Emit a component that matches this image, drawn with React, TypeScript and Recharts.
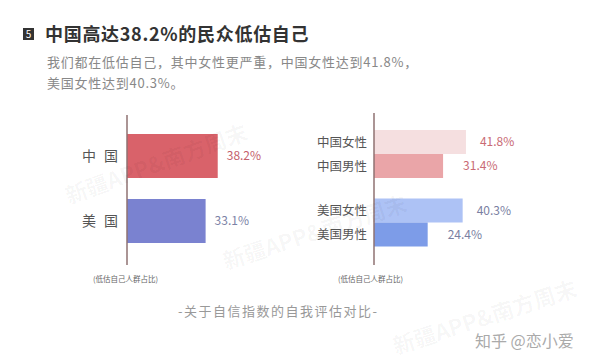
import { Bar, BarChart, Cell, LabelList, XAxis, YAxis } from 'recharts'

const countries = ['中国', '美国']
const overall = [38.2, 33.1]
const female = [41.8, 40.3]
const male = [31.4, 24.4]
const femaleLabels = ['中国女性', '美国女性']
const maleLabels = ['中国男性', '美国男性']

const leftData = countries.map((name, i) => ({ name, value: overall[i] }))
const rightData = countries.map((name, i) => ({ name, female: female[i], male: male[i] }))

const font = '"Noto Sans CJK SC", "Noto Sans", sans-serif'
const axisColor = '#8f7272'
const leftFill = ['#d9626a', '#7a82d0']
const leftLabel = ['#c4606c', '#7c82a6']
const femaleFill = ['#f5dfe0', '#adc2f5']
const maleFill = ['#eaa5a8', '#7d9ce8']
const rightLabel = ['#c96a74', '#7a80a2']

const pct = (v: number) => `${v}%`

function LeftTick({ x, y, payload }: any) {
  return (
    <text x={x - 37} y={y} dy={5} fontSize={14} fill="#555" letterSpacing={8} fontFamily={font}>
      {payload.value}
    </text>
  )
}

function RightTick({ x, y, index }: any) {
  return (
    <g fontSize={12.5} fill="#555" fontFamily={font} textAnchor="end">
      <text x={x + 1} y={y - 12} dy={4.5}>{femaleLabels[index]}</text>
      <text x={x + 1} y={y + 12} dy={4.5}>{maleLabels[index]}</text>
    </g>
  )
}

const valueLabel = (colors: string[], offset: number) => (p: any) => (
  <text
    x={p.x + p.width + offset}
    y={p.y + p.height / 2}
    dy={4}
    fontSize={12}
    fill={colors[p.index]}
    fontFamily={font}
  >
    {pct(p.value)}
  </text>
)

// faint source watermark, tiled like in the original image
const watermark = (left: number, top: number, angle: number) => (
  <div
    style={{
      position: 'absolute',
      left,
      top,
      fontSize: 22,
      fontFamily: font,
      fontWeight: 700,
      color: 'rgba(0,0,0,0.04)',
      transform: `rotate(${angle}deg)`,
      transformOrigin: 'left top',
      whiteSpace: 'nowrap',
    }}
  >
    新疆APP&南方周末
  </div>
)

export default function App() {
  return (
    <div style={{ position: 'absolute', left: 0, top: 0, width: 600, height: 362, background: '#fff', fontFamily: font, overflow: 'hidden' }}>
      <div style={{ position: 'absolute', left: 23, top: 28, width: 11, height: 12, background: '#333', color: '#fff', fontSize: 10, lineHeight: '12px', textAlign: 'center' }}>5</div>
      <div style={{ position: 'absolute', left: 45, top: 21, fontSize: 18, lineHeight: '24px', fontWeight: 700, color: '#333', whiteSpace: 'nowrap', letterSpacing: 0.7 }}>
        中国高达38.2%的民众低估自己
      </div>
      <div style={{ position: 'absolute', left: 47, top: 51, fontSize: 13, lineHeight: '21px', color: '#888', whiteSpace: 'nowrap', letterSpacing: 0.75 }}>
        我们都在低估自己，其中女性更严重，中国女性达到41.8%，
        <br />
        美国女性达到40.3%。
      </div>

      <div style={{ position: 'absolute', left: 0, top: 0 }}>
        <BarChart width={300} height={362} layout="vertical" data={leftData} margin={{ top: 115, right: 78, bottom: 97, left: 0 }}>
          <XAxis type="number" domain={[0, 40]} hide />
          <YAxis
            type="category"
            dataKey="name"
            width={127}
            axisLine={{ stroke: axisColor, strokeWidth: 1.5 }}
            tickLine={false}
            tick={<LeftTick />}
            padding={{ top: 8, bottom: 12 }}
          />
          <Bar dataKey="value" barSize={44} isAnimationActive={false}>
            {leftData.map((d, i) => (
              <Cell key={d.name} fill={leftFill[i]} />
            ))}
            <LabelList dataKey="value" content={valueLabel(leftLabel, 9)} />
          </Bar>
        </BarChart>
      </div>

      <div style={{ position: 'absolute', left: 300, top: 0 }}>
        <BarChart width={300} height={362} layout="vertical" data={rightData} margin={{ top: 113, right: 116, bottom: 97, left: 0 }} barGap={0}>
          <XAxis type="number" domain={[0, 50]} hide />
          <YAxis
            type="category"
            dataKey="name"
            width={74}
            axisLine={{ stroke: axisColor, strokeWidth: 1.5 }}
            tickLine={false}
            tick={<RightTick />}
            padding={{ top: 7, bottom: 8 }}
          />
          <Bar dataKey="female" barSize={24} isAnimationActive={false}>
            {rightData.map((d, i) => (
              <Cell key={d.name} fill={femaleFill[i]} />
            ))}
            <LabelList dataKey="female" content={valueLabel(rightLabel, 14)} />
          </Bar>
          <Bar dataKey="male" barSize={24} isAnimationActive={false}>
            {rightData.map((d, i) => (
              <Cell key={d.name} fill={maleFill[i]} />
            ))}
            <LabelList dataKey="male" content={valueLabel(rightLabel, 20)} />
          </Bar>
        </BarChart>
      </div>

      <div style={{ position: 'absolute', left: 93, top: 273, fontSize: 7.5, color: '#666', whiteSpace: 'nowrap' }}>(低估自己人群占比)</div>
      <div style={{ position: 'absolute', left: 338, top: 273, fontSize: 7.5, color: '#666', whiteSpace: 'nowrap' }}>(低估自己人群占比)</div>

      <div style={{ position: 'absolute', left: 178, top: 301, fontSize: 13, color: '#999', whiteSpace: 'nowrap', letterSpacing: 1.5 }}>
        -关于自信指数的自我评估对比-
      </div>
      <div style={{ position: 'absolute', left: 475, top: 328, fontSize: 16, color: '#aaa', whiteSpace: 'nowrap' }}>
        知乎 @恋小爱
      </div>

      {watermark(60, 180, -20)}
      {watermark(218, 245, -18)}
      {watermark(388, 330, -18)}
    </div>
  )
}
